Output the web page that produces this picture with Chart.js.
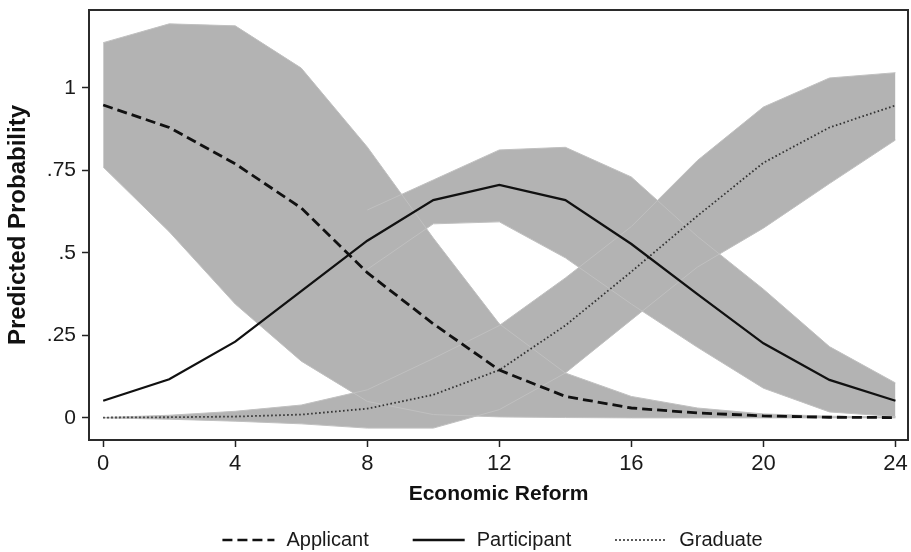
<!DOCTYPE html>
<html>
<head>
<meta charset="utf-8">
<script src="https://cdn.jsdelivr.net/npm/chart.js@4.4.1/dist/chart.umd.min.js"></script>
<style>
  html, body { margin: 0; padding: 0; background: #ffffff; }
  #wrap { width: 911px; height: 552px; }
</style>
</head>
<body>
<div id="wrap"><canvas id="c" width="911" height="552"></canvas></div>
<script>
// Economic reform score (x) at which predicted probabilities were evaluated
const reform = [0, 2, 4, 6, 8, 10, 12, 14, 16, 18, 20, 22, 24];

// Predicted probabilities per status
const applicant   = [0.948, 0.880, 0.770, 0.636, 0.440, 0.285, 0.145, 0.065, 0.030, 0.015, 0.006, 0.002, 0.001];
const participant = [0.052, 0.117, 0.231, 0.384, 0.537, 0.660, 0.706, 0.660, 0.527, 0.375, 0.226, 0.115, 0.052];
const graduate    = [0.001, 0.002, 0.004, 0.010, 0.028, 0.070, 0.145, 0.280, 0.443, 0.612, 0.773, 0.880, 0.947];

// Confidence bands (lower / upper)
const applicantLo   = [0.760, 0.564, 0.345, 0.172, 0.050, 0.010, 0.003, 0.001, 0.000, 0.000, 0.000, 0.000, 0.000];
const applicantHi   = [1.137, 1.194, 1.188, 1.060, 0.821, 0.545, 0.285, 0.136, 0.065, 0.030, 0.012, 0.005, 0.003];
const participantLo = [null, null, null, null, 0.450, 0.588, 0.594, 0.485, 0.345, 0.214, 0.090, 0.018, 0.004];
const participantHi = [null, null, null, null, 0.630, 0.721, 0.812, 0.820, 0.730, 0.550, 0.390, 0.216, 0.106];
const graduateLo    = [0.000, -0.004, -0.010, -0.018, -0.031, -0.031, 0.025, 0.136, 0.297, 0.457, 0.575, 0.710, 0.842];
const graduateHi    = [0.001, 0.008, 0.020, 0.039, 0.085, 0.180, 0.280, 0.424, 0.580, 0.780, 0.942, 1.030, 1.046];

// Axis ticks
const xTicks = [0, 4, 8, 12, 16, 20, 24];
const yTicks = [0, 0.25, 0.5, 0.75, 1];
const yTickLabels = ['0', '.25', '.5', '.75', '1'];

const FONT = "'Liberation Sans', Arial, Helvetica, sans-serif";
const BAND = '#b3b3b3';
const EDGE = '#c0c0c0';

const pts = arr => reform.map((x, i) => ({ x: x, y: arr[i] }));

function band(lo, hi) {
  return [
    { data: pts(lo), borderColor: EDGE, borderWidth: 1, pointRadius: 0, fill: false, order: 2 },
    { data: pts(hi), borderColor: EDGE, borderWidth: 1, pointRadius: 0, fill: '-1', backgroundColor: BAND, order: 2 }
  ];
}

const lineBase = { pointRadius: 0, fill: false, tension: 0, order: 0 };

const datasets = [
  ...band(applicantLo, applicantHi),
  ...band(participantLo, participantHi),
  ...band(graduateLo, graduateHi),
  { ...lineBase, label: 'Applicant',   data: pts(applicant),   borderColor: '#111111', borderWidth: 2.8, borderDash: [10, 5] },
  { ...lineBase, label: 'Participant', data: pts(participant), borderColor: '#111111', borderWidth: 2.3 },
  { ...lineBase, label: 'Graduate',    data: pts(graduate),    borderColor: '#333333', borderWidth: 1.8, borderDash: [1.6, 2.4] }
];

// Box around the plotting region
const framePlugin = {
  id: 'plotFrame',
  afterDatasetsDraw(chart) {
    const { ctx, chartArea: a } = chart;
    ctx.save();
    ctx.strokeStyle = '#2b2b2b';
    ctx.lineWidth = 2;
    ctx.strokeRect(a.left, a.top, a.right - a.left, a.bottom - a.top);
    ctx.restore();
  }
};

// Single-row key below the axis title
const keyPlugin = {
  id: 'keyRow',
  afterDraw(chart) {
    const { ctx, chartArea: a } = chart;
    const items = chart.data.datasets.filter(d => d.label);
    const sample = 52, gap = 12, between = 44, y = 540;
    ctx.save();
    ctx.font = '20px ' + FONT;
    ctx.textBaseline = 'middle';
    const widths = items.map(d => ctx.measureText(d.label).width);
    const total = widths.reduce((s, w) => s + sample + gap + w, 0) + between * (items.length - 1);
    let x = (a.left + a.right) / 2 - 6 - total / 2;
    items.forEach((d, i) => {
      ctx.beginPath();
      ctx.setLineDash(d.borderDash || []);
      ctx.lineWidth = Math.min(d.borderWidth, 2.4);
      ctx.strokeStyle = d.borderColor;
      ctx.moveTo(x, y);
      ctx.lineTo(x + sample, y);
      ctx.stroke();
      ctx.setLineDash([]);
      ctx.fillStyle = '#1a1a1a';
      ctx.fillText(d.label, x + sample + gap, y);
      x += sample + gap + widths[i] + between;
    });
    ctx.restore();
  }
};

new Chart(document.getElementById('c'), {
  type: 'line',
  data: { datasets: datasets },
  plugins: [framePlugin, keyPlugin],
  options: {
    responsive: false,
    animation: false,
    devicePixelRatio: 1,
    layout: { padding: { top: 10, right: 3, left: 0, bottom: 0 } },
    plugins: {
      legend: { display: false },
      tooltip: { enabled: false },
      filler: { drawTime: 'beforeDatasetsDraw' }
    },
    scales: {
      x: {
        type: 'linear',
        min: -0.43,
        max: 24.38,
        afterBuildTicks: s => { s.ticks = xTicks.map(v => ({ value: v })); },
        afterFit: s => { s.height = 112; s.paddingLeft = 0; s.paddingRight = 0; },
        grid: { display: true, drawOnChartArea: false, drawTicks: true, tickLength: 7, tickWidth: 1.5, tickColor: '#222222' },
        border: { display: false },
        ticks: { font: { family: FONT, size: 22 }, color: '#1a1a1a', padding: 4, maxRotation: 0, autoSkip: false },
        title: {
          display: true, text: 'Economic Reform', color: '#111111',
          font: { family: FONT, size: 21, weight: 'bold' },
          padding: { top: 0, bottom: 45 }
        }
      },
      y: {
        type: 'linear',
        min: -0.067,
        max: 1.236,
        afterBuildTicks: s => { s.ticks = yTicks.map(v => ({ value: v })); },
        afterFit: s => { s.width = 89; s.paddingTop = 0; s.paddingBottom = 0; },
        grid: { display: true, drawOnChartArea: false, drawTicks: true, tickLength: 7, tickWidth: 1.5, tickColor: '#222222' },
        border: { display: false },
        ticks: {
          font: { family: FONT, size: 21 }, color: '#1a1a1a', padding: 6,
          callback: v => yTickLabels[yTicks.indexOf(v)]
        },
        title: {
          display: true, text: 'Predicted Probability', color: '#111111',
          font: { family: FONT, size: 24, weight: 'bold' },
          padding: { top: 4, bottom: 0 }
        }
      }
    }
  }
});
</script>
</body>
</html>
